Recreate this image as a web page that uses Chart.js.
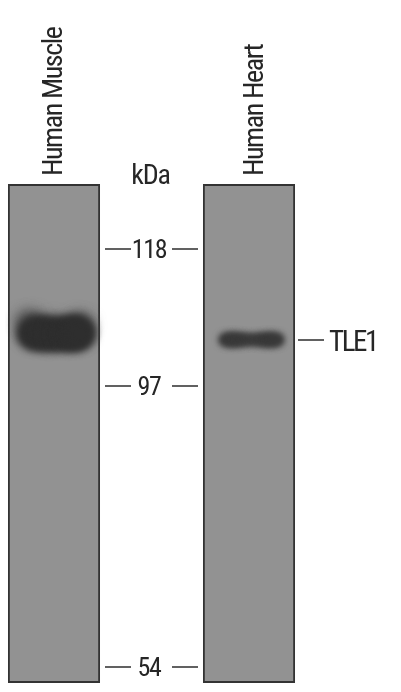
<!DOCTYPE html>
<html><head><meta charset="utf-8">
<style>html,body{margin:0;padding:0;background:#fff}canvas{display:block}</style>
<script src="https://cdn.jsdelivr.net/npm/chart.js@4"></script>
</head><body><canvas id="c" width="401" height="692"></canvas>
<script>
const lanes = ['Human Muscle', 'Human Heart'];
const categories = ['Human Muscle', 'kDa', 'Human Heart', 'TLE1'];
const kDaTicks = [118, 97, 54];
const laneRange = [51.54, 127.95];
const targetKDa = 104.1;
const muscleBandLane = [-0.23,-0.15,-0.05,0.05,0.15,0.22,0.27];
const muscleBandKDa  = [105.0,105.1,104.9,104.9,105.0,105.1,105.0];
const muscleBandSignal = [15.5,18,17,16.5,17.5,18,15];
const muscleHaloLane = [-0.29,-0.22,0,0.24,0.30];
const muscleHaloKDa  = [106.8,106.8,105.6,106.4,106.4];
const muscleHaloSignal = [12,13,16,13,12];
const heartBandLane = [1.75,1.80,1.85,1.90,1.95,2.0,2.05,2.10,2.15,2.20,2.25,2.30];
const heartBandKDa  = [104.1,104.1,104.1,104.1,104.1,104.1,104.1,104.1,104.1,104.1,104.1,104.1];
const heartBandSignal = [6.5,7.5,7.5,7,6.5,6,6,6.5,7,7.5,7.5,6.5];

const LETTER = '-1.4px', INK = '#262626', FONT = '"Roboto Condensed"';

function laneFill(ctx){
  const el = ctx.element; if(!el || !el.x) return '#929292';
  const w = el.width || 92, l = el.x - w/2;
  const g = ctx.chart.ctx.createLinearGradient(l,0,l+w,0);
  if(ctx.dataIndex===0){
    g.addColorStop(0,'#a2a2a2');g.addColorStop(.06,'#9c9c9c');g.addColorStop(.3,'#959595');g.addColorStop(1,'#8f8f8f');
  } else {
    g.addColorStop(0,'#8f8f8f');g.addColorStop(.5,'#939393');g.addColorStop(.91,'#929292');g.addColorStop(.95,'#a3a3a3');g.addColorStop(1,'#979797');
  }
  return g;
}
const blurPlugin = {
  id:'blotTreatment',
  beforeDraw(c){
    c.ctx.letterSpacing = LETTER;
    const item = c.scales.x.getLabelItems()[2];
    if(item && !item.nudged){ item.options.translation[0]+=6.5; item.nudged=true; }
    c.scales.y.getLabelItems().forEach(i=>{ if(!i.nudged){ i.options.translation[1]+=2.5; i.nudged=true; } });
  },
  beforeDatasetDraw(c,a){ const b=c.data.datasets[a.index].blur; if(b){c.ctx.save();c.ctx.filter='blur('+b+'px)';} },
  afterDatasetDraw(c,a){ if(c.data.datasets[a.index].blur){c.ctx.restore();} },
  afterDraw(c){
    const ctx=c.ctx,x=c.scales.x,y=c.scales.y,cx=x.getPixelForValue(1);
    ctx.save();ctx.strokeStyle='#2e2e2e';ctx.lineWidth=1.6;ctx.fillStyle=INK;
    ctx.beginPath();
    y.ticks.forEach(t=>{const p=Math.round(y.getPixelForValue(t.value));
      ctx.moveTo(cx-46.5,p);ctx.lineTo(cx-20.5,p);ctx.moveTo(cx+20.5,p);ctx.lineTo(cx+46.5,p);});
    const tp=Math.round(y.getPixelForValue(targetKDa)),tx=x.getPixelForValue(3);
    ctx.moveTo(tx-48.5,tp);ctx.lineTo(tx-22.5,tp);ctx.stroke();
    ctx.font='29px '+FONT;ctx.textBaseline='alphabetic';
    ctx.letterSpacing='-2.4px';ctx.textAlign='left';
    ctx.fillText(categories[3],tx-17.5,tp+11);
    ctx.font='28px '+FONT;ctx.letterSpacing='-1.2px';ctx.textAlign='center';
    ctx.fillText(categories[1],cx-1,184);
    ctx.restore();
  }
};
new Chart(document.getElementById('c'),{
  data:{labels:categories,datasets:[
    {type:'bar',xAxisID:'x',data:[laneRange,null,laneRange,null],backgroundColor:laneFill,borderColor:'#333333',borderWidth:2,borderSkipped:false,grouped:false,barPercentage:.945,categoryPercentage:1,order:3},
    {type:'bubble',xAxisID:'xLane',blur:6,data:muscleHaloLane.map((v,i)=>({x:v,y:muscleHaloKDa[i],r:muscleHaloSignal[i]})),backgroundColor:'rgba(70,70,70,.55)',borderWidth:0,order:2},
    {type:'bubble',xAxisID:'xLane',blur:4,data:muscleBandLane.map((v,i)=>({x:v,y:muscleBandKDa[i],r:muscleBandSignal[i]})),backgroundColor:'#2e2e2e',borderWidth:0,order:1},
    {type:'bubble',xAxisID:'xLane',blur:3,data:heartBandLane.map((v,i)=>({x:v,y:heartBandKDa[i],r:heartBandSignal[i]})),backgroundColor:'#383838',borderWidth:0,order:1}
  ]},
  options:{
    responsive:false,animation:false,devicePixelRatio:1,
    layout:{autoPadding:false,padding:{left:5.25,right:5.75,top:0,bottom:9}},
    plugins:{legend:{display:false},tooltip:{enabled:false}},
    scales:{
      x:{type:'category',position:'top',offset:true,grid:{display:false,drawTicks:false},border:{display:false},
        afterFit(s){s.height=184;},
        ticks:{autoSkip:false,minRotation:90,maxRotation:90,padding:8,labelOffset:34.5,color:INK,font:{family:FONT,size:28},
          callback(v){const l=this.getLabelForValue(v);return lanes.includes(l)?l:'';}}},
      xLane:{type:'linear',display:false,min:-0.5,max:3.5},
      y:{type:'linear',min:laneRange[0],max:laneRange[1],position:'left',grid:{display:false,drawTicks:false},border:{display:false},
        afterBuildTicks(s){s.ticks=kDaTicks.map(value=>({value}));},
        afterFit(s){s.width=0;s._computeLabelArea=()=>undefined;},
        ticks:{crossAlign:'center',padding:-163,color:INK,font:{family:FONT,size:26}}}
    }
  },
  plugins:[blurPlugin]
});
</script></body></html>
